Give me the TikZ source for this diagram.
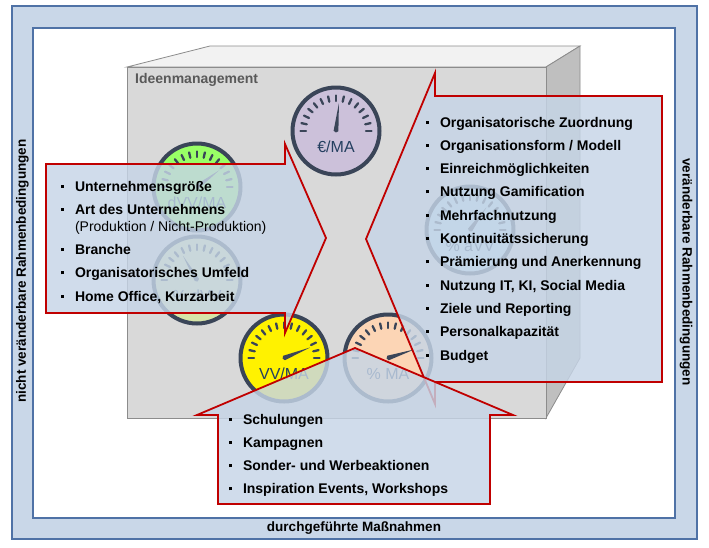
\documentclass[tikz,border=0pt]{standalone}
\usepackage{fontspec}
\setmainfont{Liberation Sans}
\usetikzlibrary{matrix}

\definecolor{framefill}{HTML}{C9D7E8}
\definecolor{frameline}{HTML}{4F72A6}
\definecolor{calred}{HTML}{C00000}
\definecolor{callfill}{HTML}{C6D5E7}
\definecolor{rimgray}{HTML}{3A4558}
\definecolor{labblue}{HTML}{243F60}
\definecolor{cubefront}{HTML}{D9D9D9}
\definecolor{cubetop}{HTML}{F2F2F2}
\definecolor{cubeside}{HTML}{BFBFBF}
\definecolor{cubeedge}{HTML}{8C8C8C}
\definecolor{titlegray}{HTML}{595959}
\definecolor{dialviolet}{HTML}{CCC1DA}
\definecolor{dialgreen}{HTML}{99FF66}
\definecolor{dialpale}{HTML}{D7E4A8}
\definecolor{dialpeach}{HTML}{FCD5B5}
\definecolor{dialblue}{HTML}{B7DDEE}

% gauge: name, centre, fill, needle angle, label
\newcommand{\gauge}[5]{%
  \begin{scope}[shift={#2},yscale=-1]
    \fill[#3] (0,0) circle (43.5);
    \foreach \i in {0,...,14}
      \draw[tick] ({\i*180/14}:30) -- ({\i*180/14}:35.5);
    \fill[rimgray] (#4:28) -- (#4+90:2.4) -- (#4+180:1.5) -- (#4-90:2.4) -- cycle;
    \draw[rim] (0,0) circle (43.5);
    \node[dialtext] (#1) at (0,-16) {#5};
  \end{scope}}

\newcommand{\bul}{\rule[3.5pt]{3pt}{3pt}}

\begin{document}
\begin{tikzpicture}[x=1pt, y=-1pt,
  face/.style={draw=cubeedge, line width=0.8pt},
  tick/.style={rimgray, line width=2.3pt, line cap=round},
  rim/.style={rimgray, line width=4pt},
  dialtext/.style={text=labblue, font=\fontsize{16}{18}\selectfont, inner sep=0pt},
  callout/.style={draw=calred, line width=1.8pt, fill=callfill, fill opacity=0.82, line join=miter},
  sidetext/.style={font=\fontsize{13.5}{15}\selectfont\bfseries, inner sep=0pt},
  list/.style={matrix of nodes, anchor=north west, inner sep=0pt, outer sep=0pt,
    row sep=10.3pt, column sep=11pt,
    nodes={inner sep=0pt, text height=10pt, text depth=3pt, anchor=base west,
      font=\fontsize{14}{16}\selectfont\bfseries}}
]
\useasboundingbox (0,0) rectangle (709,547);

% frames
\draw[frameline, line width=1.5pt, fill=framefill] (12,6) rectangle (697,539);
\draw[frameline, line width=1.2pt, fill=white] (33,28) rectangle (675,518);

\node[sidetext, rotate=90] (fixedlab) at (22.5,271) {nicht veränderbare Rahmenbedingungen};
\node[sidetext, rotate=-90] (designlab) at (686,272) {veränderbare Rahmenbedingungen};
\node[sidetext] (actionlab) at (354,528.5) {durchgeführte Maßnahmen};

% cube
\filldraw[face, fill=cubetop] (127,67) -- (210,46) -- (580,46) -- (546,67) -- cycle;
\filldraw[face, fill=cubeside] (546,67) -- (580,46) -- (580,358) -- (546,418) -- cycle;
\filldraw[face, fill=cubefront] (127,67) rectangle (546,418);
\node[anchor=west, text=titlegray, inner sep=0pt,
  font=\fontsize{14}{16}\selectfont\bfseries] (title) at (135,80) {Ideenmanagement};

% gauges
\gauge{eur}{(336,131)}{dialviolet}{84}{€/MA}
\gauge{dvv}{(197,187)}{dialgreen}{37}{dVV/MA}
\gauge{pdvv}{(197,280)}{dialpale}{120}{\% dVV}
\gauge{vv}{(284,358)}{yellow}{22}{VV/MA}
\gauge{pma}{(388,358)}{dialpeach}{18}{\% MA}
\gauge{pavv}{(470,230)}{dialblue}{54}{\% aVV}

% callouts
\draw[callout] (366,239) -- (435,73) -- (435,96) -- (662,96) -- (662,382)
  -- (435,382) -- (435,404) -- cycle;
\draw[callout] (46,164) -- (285,164) -- (285,144) -- (326,238) -- (285,333)
  -- (285,313) -- (46,313) -- cycle;
\draw[callout] (355,348) -- (513,415) -- (490,415) -- (490,504) -- (218,504)
  -- (218,415) -- (197,415) -- cycle;

% lists
\matrix (fixed) [list] at (61,181) {
  \bul & Unternehmensgröße \\
  \bul & Art des Unternehmens \\[-6.3pt]
       & {\mdseries (Produktion / Nicht-Produktion)} \\
  \bul & Branche \\
  \bul & Organisatorisches Umfeld \\
  \bul & Home Office, Kurzarbeit \\
};
\matrix (design) [list] at (426,117) {
  \bul & Organisatorische Zuordnung \\
  \bul & Organisationsform / Modell \\
  \bul & Einreichmöglichkeiten \\
  \bul & Nutzung Gamification \\
  \bul & Mehrfachnutzung \\
  \bul & Kontinuitätssicherung \\
  \bul & Prämierung und Anerkennung \\
  \bul & Nutzung IT, KI, Social Media \\
  \bul & Ziele und Reporting \\
  \bul & Personalkapazität \\
  \bul & Budget \\
};
\matrix (actions) [list] at (229,414) {
  \bul & Schulungen \\
  \bul & Kampagnen \\
  \bul & Sonder- und Werbeaktionen \\
  \bul & Inspiration Events, Workshops \\
};
\end{tikzpicture}
\end{document}
